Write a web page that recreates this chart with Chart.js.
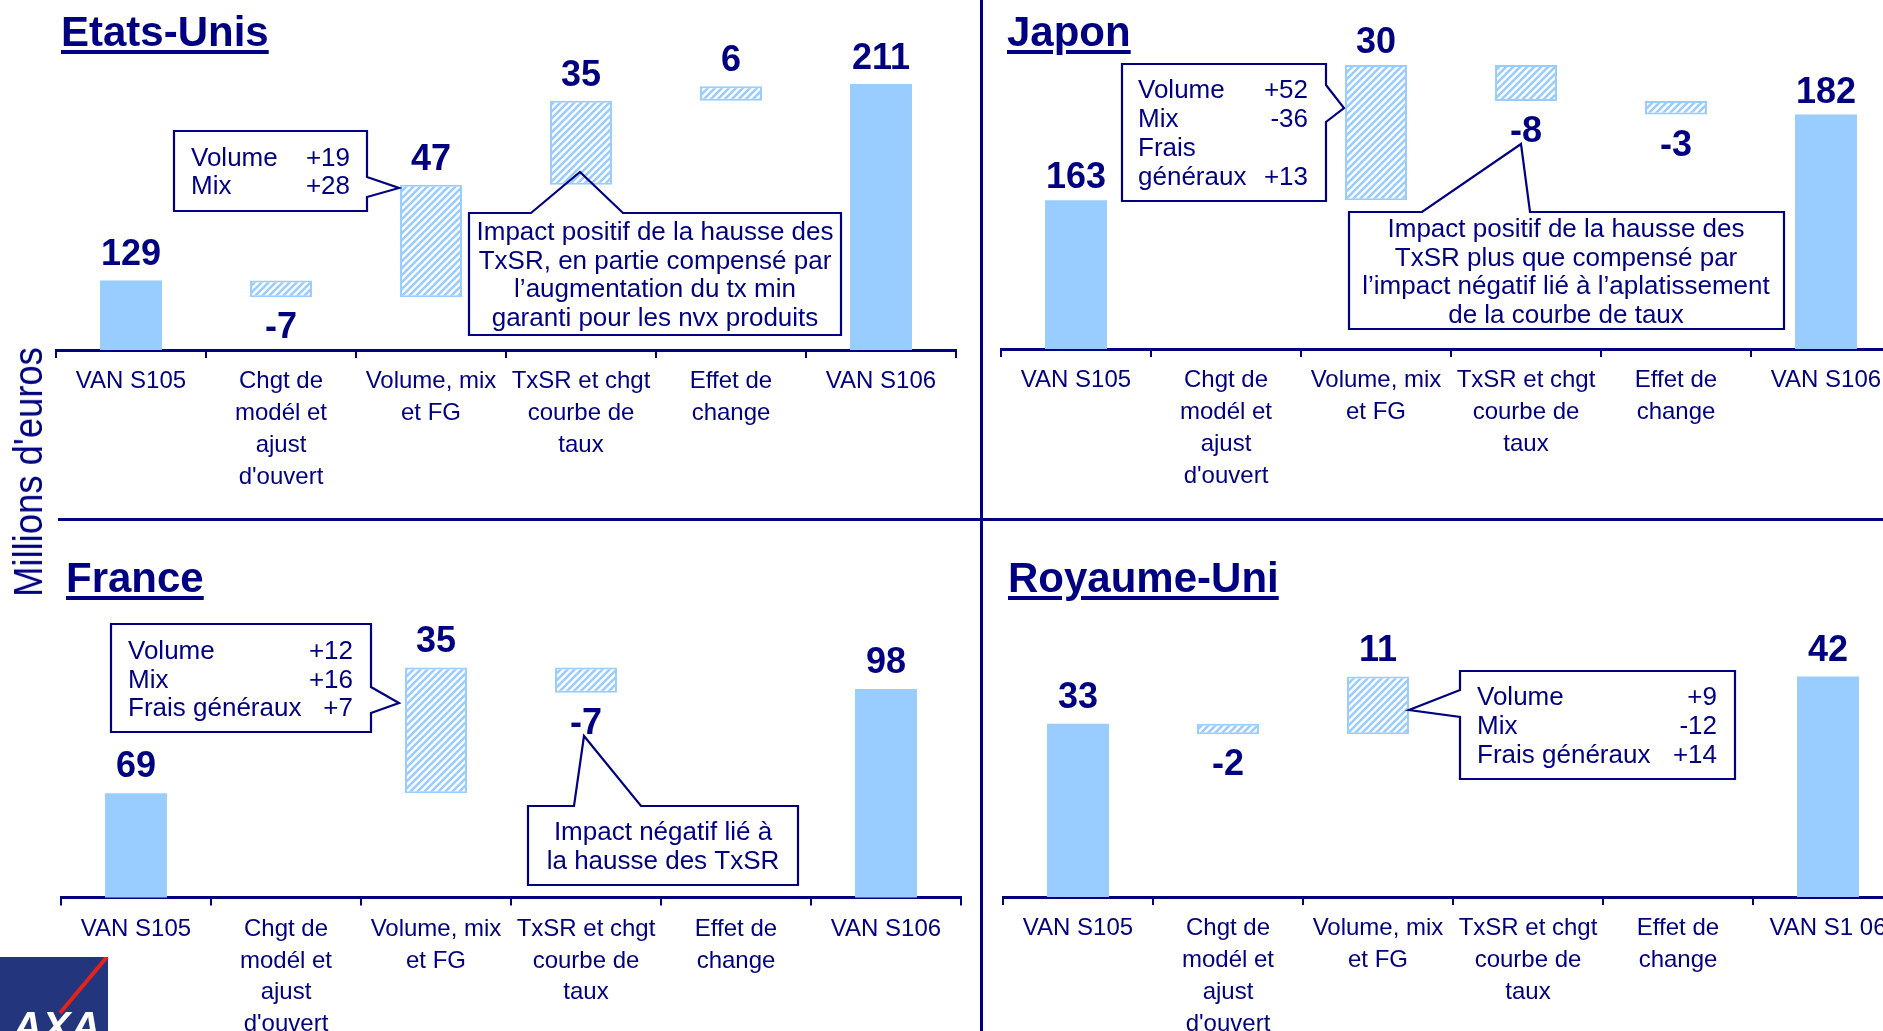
<!DOCTYPE html>
<html>
<head>
<meta charset="utf-8">
<script src="https://cdn.jsdelivr.net/npm/chart.js@4/dist/chart.umd.min.js"></script>
<style>
  html, body { margin:0; padding:0; width:1883px; height:1031px; overflow:hidden; background:#fff;
    font-family:"Liberation Sans", Arial, sans-serif; }
  canvas.cv { position:absolute; }
  .title { position:absolute; color:#000080; font-weight:bold; font-size:42px; line-height:42px;
    white-space:nowrap; text-decoration:underline; text-decoration-thickness:4px; text-underline-offset:4px; }
  .vline { position:absolute; left:980px; top:0; width:3px; height:1031px; background:#000080; }
  .hline { position:absolute; left:58px; top:518px; width:1825px; height:3px; background:#000080; }
  .ylab { position:absolute; left:28px; top:472px; color:#000080; font-size:40px; line-height:40px; white-space:nowrap;
    transform:translate(-50%,-50%) rotate(-90deg) scaleX(0.91); }
  .logo { position:absolute; left:0; top:957px; }
</style>
</head>
<body>
<canvas id="cUS" class="cv"></canvas>
<canvas id="cJP" class="cv"></canvas>
<canvas id="cFR" class="cv"></canvas>
<canvas id="cUK" class="cv"></canvas>

<div class="vline"></div>
<div class="hline"></div>
<div class="title" id="tUS" style="left:61px; top:11px;"></div>
<div class="title" id="tJP" style="left:1007px; top:11px;"></div>
<div class="title" id="tFR" style="left:66px; top:557px;"></div>
<div class="title" id="tUK" style="left:1008px; top:557px;"></div>
<div class="ylab" id="ylab"></div>
<svg class="logo" width="110" height="80" viewBox="0 0 110 80">
  <rect x="0" y="0" width="108" height="80" fill="#22357d"/>
  <text x="12" y="84" fill="#fff" font-family="Liberation Sans, Arial" font-weight="bold" font-style="italic" font-size="42">AXA</text>
  <line x1="107" y1="0" x2="60" y2="56" stroke="#e2231a" stroke-width="4"/>
</svg>

<script>
// ---------------- DATA ----------------
const categoryLabels   = [['VAN S105'], ['Chgt de','modél et','ajust',"d'ouvert"], ['Volume, mix','et FG'], ['TxSR et chgt','courbe de','taux'], ['Effet de','change'], ['VAN S106']];
const categoryLabelsUK = [['VAN S105'], ['Chgt de','modél et','ajust',"d'ouvert"], ['Volume, mix','et FG'], ['TxSR et chgt','courbe de','taux'], ['Effet de','change'], ['VAN S1 06']];

const usValues     = [129, -7, 47, 35, 6, 211];
const japanValues  = [163, null, 30, -8, -3, 182];
const franceValues = [69, null, 35, -7, null, 98];
const ukValues     = [33, -2, 11, null, null, 42];

const usAxisRange     = [100, 221];
const japanAxisRange  = [130, 194.1];
const franceAxisRange = [40, 122.8];
const ukAxisRange     = [0, 56.6];

const panelTitles = ['Etats-Unis', 'Japon', 'France', 'Royaume-Uni'];
const yAxisTitle = "Millions d'euros";

const usBreakdown     = [['Volume','+19'], ['Mix','+28']];
const japanBreakdown  = [['Volume','+52'], ['Mix','-36'], ['Frais',''], ['généraux','+13']];
const franceBreakdown = [['Volume','+12'], ['Mix','+16'], ['Frais généraux','+7']];
const ukBreakdown     = [['Volume','+9'], ['Mix','-12'], ['Frais généraux','+14']];

const usComment     = ['Impact positif de la hausse des', 'TxSR, en partie compensé par', 'l\u2019augmentation du tx min', 'garanti pour les nvx produits'];
const japanComment  = ['Impact positif de la hausse des', 'TxSR plus que compensé par', 'l\u2019impact négatif lié à l\u2019aplatissement', 'de la courbe de taux'];
const franceComment = ['Impact négatif lié à', 'la hausse des TxSR'];

// ---------------- STYLE ----------------
const NAVY = '#000080';
const BAR = '#99ccff';
const FONT = '"Liberation Sans", Arial, sans-serif';
Chart.defaults.font.family = FONT;

document.getElementById('tUS').textContent = panelTitles[0];
document.getElementById('tJP').textContent = panelTitles[1];
document.getElementById('tFR').textContent = panelTitles[2];
document.getElementById('tUK').textContent = panelTitles[3];
document.getElementById('ylab').textContent = yAxisTitle;

function hatchPattern(ctx) {
  const s = 7;
  const c = document.createElement('canvas'); c.width = s; c.height = s;
  const g = c.getContext('2d');
  g.fillStyle = '#ffffff'; g.fillRect(0, 0, s, s);
  g.strokeStyle = BAR; g.lineWidth = 2.6; g.lineCap = 'square';
  g.beginPath();
  g.moveTo(-2, s + 2); g.lineTo(s + 2, -2);
  g.moveTo(-2, 2); g.lineTo(2, -2);
  g.moveTo(s - 2, s + 2); g.lineTo(s + 2, s - 2);
  g.stroke();
  return ctx.createPattern(c, 'repeat');
}

function waterfall(values) {
  const n = values.length;
  const totals = values.map((v, i) => (i === 0 || i === n - 1) ? v : null);
  let run = values[0];
  const deltas = values.map((v, i) => {
    if (i === 0 || i === n - 1 || v === null) return null;
    const seg = [run, run + v]; run += v; return seg;
  });
  return { totals, deltas };
}

function drawCallout(ctx, a, ox, oy) {
  const L = a.box[0] - ox, T = a.box[1] - oy, R = a.box[2] - ox, B = a.box[3] - oy;
  const p = a.ptr;
  ctx.save();
  ctx.fillStyle = '#fff';
  ctx.fillRect(L, T, R - L, B - T);
  ctx.beginPath();
  ctx.moveTo(L, T);
  if (p.side === 'top') { ctx.lineTo(p.a - ox, T); ctx.lineTo(p.tx - ox, p.ty - oy); ctx.lineTo(p.b - ox, T); }
  ctx.lineTo(R, T);
  if (p.side === 'right') { ctx.lineTo(R, p.a - oy); ctx.lineTo(p.tx - ox, p.ty - oy); ctx.lineTo(R, p.b - oy); }
  ctx.lineTo(R, B);
  ctx.lineTo(L, B);
  if (p.side === 'left') { ctx.lineTo(L, p.b - oy); ctx.lineTo(p.tx - ox, p.ty - oy); ctx.lineTo(L, p.a - oy); }
  ctx.closePath();
  if (p.side !== 'top') { ctx.fillStyle = '#fff'; ctx.fill(); }
  ctx.strokeStyle = NAVY; ctx.lineWidth = 2.2; ctx.lineJoin = 'miter';
  ctx.stroke();
  ctx.fillStyle = NAVY;
  ctx.font = '26px ' + FONT;
  ctx.textBaseline = 'alphabetic';
  if (a.rows) {
    a.rows.forEach((r, i) => {
      const y = a.base + i * a.step - oy;
      ctx.textAlign = 'left'; ctx.fillText(r[0], a.lx - ox, y);
      ctx.textAlign = 'right'; ctx.fillText(r[1], a.rx - ox, y);
    });
  } else {
    ctx.textAlign = 'center';
    a.lines.forEach((t, i) => ctx.fillText(t, a.cx - ox, a.base + i * a.step - oy));
  }
  ctx.restore();
}

const overlay = {
  id: 'overlay',
  afterDatasetsDraw(chart, args, o) {
    const ctx = chart.ctx;
    (o.notes || []).forEach(a => drawCallout(ctx, a, o.ox, o.oy));
    const n = o.values.length;
    const mTot = chart.getDatasetMeta(0), mDel = chart.getDatasetMeta(1);
    ctx.save();
    ctx.fillStyle = NAVY;
    ctx.font = 'bold 36px ' + FONT;
    ctx.textAlign = 'center';
    ctx.textBaseline = 'alphabetic';
    o.values.forEach((v, i) => {
      if (v === null) return;
      const el = (i === 0 || i === n - 1) ? mTot.data[i] : mDel.data[i];
      const top = Math.min(el.y, el.base), bot = Math.max(el.y, el.base);
      if (v >= 0) ctx.fillText(String(v), el.x, top - o.gap);
      else ctx.fillText(String(v), el.x, bot + 41);
    });
    ctx.restore();
  }
};

function makePanel(id, P) {
  const cv = document.getElementById(id);
  cv.width = P.w; cv.height = P.h;
  cv.style.left = P.left + 'px'; cv.style.top = P.top + 'px';
  const ctx = cv.getContext('2d');
  const wf = waterfall(P.values);
  const pat = hatchPattern(ctx);
  new Chart(ctx, {
    type: 'bar',
    data: {
      labels: P.labels,
      datasets: [
        { data: wf.totals, backgroundColor: BAR, borderWidth: 0, grouped: false, barPercentage: 0.413, categoryPercentage: 1 },
        { data: wf.deltas, backgroundColor: pat, borderColor: BAR, borderWidth: 2, borderSkipped: false, grouped: false, barPercentage: 0.413, categoryPercentage: 1 }
      ]
    },
    options: {
      responsive: false, animation: false, devicePixelRatio: 1,
      layout: { padding: { left: 16, right: 16, top: P.padTop, bottom: 0 } },
      plugins: {
        legend: { display: false }, tooltip: { enabled: false },
        overlay: { values: P.values, gap: P.gap, notes: P.notes, ox: P.left, oy: P.top }
      },
      scales: {
        x: {
          grid: { offset: true, drawOnChartArea: false, drawTicks: true, tickLength: 8, color: NAVY, lineWidth: 2 },
          border: { display: true, color: NAVY, width: 3 },
          ticks: { color: NAVY, font: { size: 24, lineHeight: 1.32 }, padding: 8, maxRotation: 0, minRotation: 0, autoSkip: false },
          afterFit(s) { s.height = P.axisH; }
        },
        y: { display: false, min: P.range[0], max: P.range[1] }
      }
    },
    plugins: [overlay]
  });
}

makePanel('cUS', {
  left: 40, top: 0, w: 932, h: 520, padTop: 60, axisH: 170, gap: 15,
  labels: categoryLabels, values: usValues, range: usAxisRange,
  notes: [
    { box: [174, 131, 367, 211], ptr: { side: 'right', a: 177, b: 197, tx: 399, ty: 188 },
      rows: usBreakdown, lx: 191, rx: 350, base: 166, step: 28 },
    { box: [469, 213, 841, 335], ptr: { side: 'top', a: 531, b: 623, tx: 580, ty: 172 },
      lines: usComment, cx: 655, base: 240, step: 28.7 }
  ]
});

makePanel('cJP', {
  left: 985, top: 0, w: 932, h: 520, padTop: 60, axisH: 171, gap: 12,
  labels: categoryLabels, values: japanValues, range: japanAxisRange,
  notes: [
    { box: [1122, 64, 1326, 201], ptr: { side: 'right', a: 85, b: 122, tx: 1344, ty: 108 },
      rows: japanBreakdown, lx: 1138, rx: 1308, base: 98, step: 29 },
    { box: [1349, 212, 1784, 329], ptr: { side: 'top', a: 1422, b: 1530, tx: 1521, ty: 144 },
      lines: japanComment, cx: 1566, base: 237, step: 28.7 }
  ]
});

makePanel('cFR', {
  left: 45, top: 520, w: 932, h: 520, padTop: 80, axisH: 142.5, gap: 16,
  labels: categoryLabels, values: franceValues, range: franceAxisRange,
  notes: [
    { box: [111, 624, 371, 732], ptr: { side: 'right', a: 687, b: 713, tx: 399, ty: 703 },
      rows: franceBreakdown, lx: 128, rx: 353, base: 659, step: 28.5 },
    { box: [528, 806, 798, 885], ptr: { side: 'top', a: 574, b: 641, tx: 584, ty: 736 },
      lines: franceComment, cx: 663, base: 840, step: 29 }
  ]
});

makePanel('cUK', {
  left: 987, top: 520, w: 932, h: 520, padTop: 80, axisH: 143, gap: 16,
  labels: categoryLabelsUK, values: ukValues, range: ukAxisRange,
  notes: [
    { box: [1460, 671, 1735, 779], ptr: { side: 'left', a: 690, b: 717, tx: 1409, ty: 710 },
      rows: ukBreakdown, lx: 1477, rx: 1717, base: 705, step: 29 }
  ]
});
</script>
</body>
</html>
